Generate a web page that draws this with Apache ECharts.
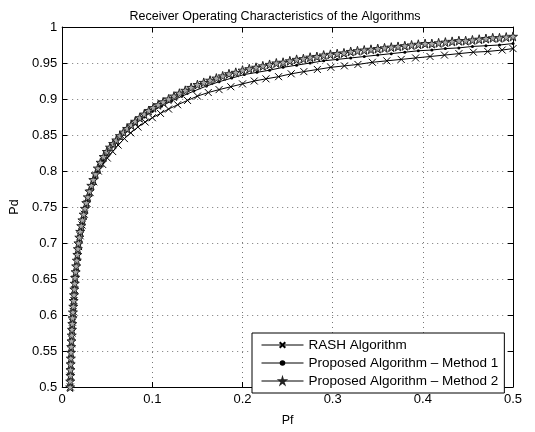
<!DOCTYPE html>
<html>
<head>
<meta charset="utf-8">
<script src="https://cdn.jsdelivr.net/npm/echarts@6/dist/echarts.min.js"></script>
<style>
    html, body { margin: 0; padding: 0; background: #fff; }
    #roc { width: 535px; height: 432px; }
</style>
</head>
<body>
<div id="roc"></div>
<script>
// tick labels of the axes
const xTicks = [0, 0.1, 0.2, 0.3, 0.4, 0.5];
const yTicks = [0.5, 0.55, 0.6, 0.65, 0.7, 0.75, 0.8, 0.85, 0.9, 0.95, 1];

const seriesNames = ['RASH Algorithm', 'Proposed Algorithm \u2013 Method 1', 'Proposed Algorithm \u2013 Method 2'];

// [Pf, Pd]
const rash = [
    [0.0090, 0.500], [0.0093, 0.515], [0.0096, 0.530], [0.0099, 0.545], [0.0103, 0.560],
    [0.0108, 0.575], [0.0114, 0.590], [0.0122, 0.605], [0.0130, 0.620], [0.0138, 0.635],
    [0.0146, 0.650], [0.0157, 0.665], [0.0169, 0.680], [0.0182, 0.695], [0.0199, 0.710],
    [0.0220, 0.725], [0.0245, 0.740], [0.0275, 0.755], [0.0310, 0.770], [0.0350, 0.785],
    [0.0400, 0.800], [0.045, 0.809], [0.050, 0.818], [0.056, 0.827], [0.062, 0.836],
    [0.069, 0.845], [0.076, 0.853], [0.084, 0.861], [0.092, 0.868], [0.100, 0.874],
    [0.109, 0.880], [0.118, 0.886], [0.128, 0.892], [0.139, 0.898], [0.150, 0.904],
    [0.162, 0.909], [0.174, 0.913], [0.187, 0.917], [0.200, 0.921], [0.213, 0.925],
    [0.226, 0.928], [0.240, 0.931], [0.254, 0.935], [0.268, 0.938], [0.283, 0.941],
    [0.298, 0.944], [0.313, 0.946], [0.328, 0.948], [0.344, 0.951], [0.360, 0.953],
    [0.376, 0.955], [0.392, 0.957], [0.408, 0.959], [0.424, 0.961], [0.440, 0.963],
    [0.456, 0.965], [0.472, 0.966], [0.488, 0.968], [0.500, 0.970]
];

const method1 = [
    [0.0089, 0.500], [0.0092, 0.520], [0.0097, 0.540], [0.0102, 0.560], [0.0110, 0.580],
    [0.0118, 0.600], [0.0128, 0.620], [0.0138, 0.640], [0.0150, 0.660], [0.0166, 0.680],
    [0.0182, 0.700], [0.0207, 0.720], [0.0240, 0.740], [0.0278, 0.760], [0.0325, 0.780],
    [0.0385, 0.800], [0.045, 0.814], [0.051, 0.825], [0.058, 0.836], [0.065, 0.846],
    [0.073, 0.856], [0.082, 0.866], [0.091, 0.875], [0.100, 0.883], [0.110, 0.890],
    [0.121, 0.897], [0.133, 0.904], [0.146, 0.911], [0.160, 0.918], [0.174, 0.924],
    [0.188, 0.929], [0.202, 0.934], [0.216, 0.937], [0.230, 0.940], [0.245, 0.944],
    [0.260, 0.947], [0.275, 0.950], [0.290, 0.953], [0.305, 0.955], [0.320, 0.957],
    [0.335, 0.959], [0.350, 0.961], [0.365, 0.963], [0.380, 0.965], [0.395, 0.967],
    [0.410, 0.968], [0.425, 0.970], [0.440, 0.971], [0.455, 0.973], [0.470, 0.974],
    [0.485, 0.975], [0.500, 0.977]
];

const method2 = [
    [0.0088, 0.500], [0.0089, 0.508], [0.0091, 0.516], [0.0092, 0.524], [0.0094, 0.532],
    [0.0096, 0.540], [0.0098, 0.548], [0.0100, 0.556], [0.0103, 0.564], [0.0106, 0.572],
    [0.0109, 0.580], [0.0112, 0.588], [0.0115, 0.596], [0.0119, 0.604], [0.0123, 0.612],
    [0.0127, 0.620], [0.0131, 0.628], [0.0135, 0.636], [0.0139, 0.644], [0.0143, 0.652],
    [0.0149, 0.660], [0.0155, 0.668], [0.0162, 0.676], [0.0168, 0.684], [0.0174, 0.692],
    [0.0180, 0.700], [0.0190, 0.708], [0.0200, 0.716], [0.0211, 0.724], [0.0224, 0.732],
    [0.0238, 0.740], [0.0252, 0.748], [0.0267, 0.756], [0.0284, 0.764], [0.0302, 0.772],
    [0.0323, 0.780], [0.0345, 0.788], [0.0370, 0.796], [0.0395, 0.804], [0.0425, 0.812],
    [0.0460, 0.820], [0.0495, 0.827], [0.0530, 0.833], [0.0565, 0.838], [0.0600, 0.843],
    [0.0640, 0.849], [0.0680, 0.854], [0.0720, 0.859], [0.0765, 0.864], [0.0810, 0.869],
    [0.0860, 0.874], [0.0910, 0.879], [0.0960, 0.884], [0.1010, 0.888], [0.1065, 0.892],
    [0.1120, 0.896], [0.1180, 0.900], [0.1240, 0.904], [0.1300, 0.908], [0.1365, 0.912],
    [0.1430, 0.916], [0.1500, 0.920], [0.1570, 0.923], [0.1640, 0.926], [0.1710, 0.929],
    [0.1780, 0.932], [0.1850, 0.935], [0.1925, 0.937], [0.2000, 0.940], [0.2075, 0.942],
    [0.2150, 0.944], [0.2225, 0.946], [0.2300, 0.948], [0.2375, 0.950], [0.2450, 0.951],
    [0.2525, 0.953], [0.2600, 0.955], [0.2675, 0.956], [0.2750, 0.958], [0.2825, 0.959],
    [0.2900, 0.961], [0.2975, 0.962], [0.3050, 0.963], [0.3125, 0.964], [0.3200, 0.966],
    [0.3275, 0.967], [0.3350, 0.968], [0.3425, 0.969], [0.3500, 0.970], [0.3575, 0.971],
    [0.3650, 0.972], [0.3725, 0.973], [0.3800, 0.974], [0.3875, 0.975], [0.3950, 0.976],
    [0.4025, 0.977], [0.4100, 0.977], [0.4175, 0.978], [0.4250, 0.979], [0.4325, 0.980],
    [0.4400, 0.981], [0.4475, 0.981], [0.4550, 0.982], [0.4625, 0.983], [0.4700, 0.984],
    [0.4775, 0.985], [0.4850, 0.985], [0.4925, 0.986], [0.5000, 0.987]
];

const crossPath = 'path://M0,0L10,10M10,0L0,10';
const starPath = 'path://M50,0L61,35L98,35L68,57L79,91L50,70L21,91L32,57L2,35L39,35Z';

const font = 'Liberation Sans, Helvetica, Arial, sans-serif';

const chart = echarts.init(document.getElementById('roc'), null, {renderer: 'canvas'});

const baseX = {
    type: 'value',
    min: xTicks[0],
    max: xTicks[xTicks.length - 1],
    interval: 0.1,
    axisLine: {show: true, onZero: false, lineStyle: {color: '#000', width: 1}},
    axisTick: {show: true, inside: true, length: 5, lineStyle: {color: '#000'}},
    splitLine: {show: false}
};
const baseY = {
    type: 'value',
    min: yTicks[0],
    max: yTicks[yTicks.length - 1],
    interval: 0.05,
    axisLine: {show: true, onZero: false, lineStyle: {color: '#000', width: 1}},
    axisTick: {show: true, inside: true, length: 5, lineStyle: {color: '#000'}},
    splitLine: {show: false}
};
const gridLine = {show: true, lineStyle: {color: '#777', type: [1, 4], width: 1}};

let option = {
    animation: false,
    backgroundColor: '#fff',
    textStyle: {fontFamily: font, color: '#000'},
    title: {
        text: 'Receiver Operating Characteristics of the Algorithms',
        left: 270,
        textAlign: 'center',
        top: 5,
        textStyle: {fontSize: 12.5, fontWeight: 'normal', color: '#000', fontFamily: font}
    },
    grid: {left: 58, right: 22, top: 27, bottom: 37, containLabel: false},
    legend: {
        orient: 'vertical',
        left: 252,
        top: 333,
        itemWidth: 42,
        itemHeight: 7,
        itemGap: 4,
        padding: [5, 6, 5, 9],
        backgroundColor: '#fff',
        borderColor: '#000',
        borderWidth: 1,
        borderRadius: 0,
        lineStyle: {width: 1, color: '#000'},
        textStyle: {fontSize: 13.5, color: '#000', fontFamily: font},
        data: seriesNames
    },
    xAxis: [
        Object.assign({}, baseX, {
            position: 'bottom',
            name: 'Pf',
            nameLocation: 'middle',
            nameGap: 27,
            nameTextStyle: {fontSize: 12.5, color: '#000', fontFamily: font},
            axisLabel: {show: true, color: '#000', fontSize: 13, margin: 6, fontFamily: font},
            splitLine: gridLine
        }),
        Object.assign({}, baseX, {position: 'top', axisLabel: {show: false}})
    ],
    yAxis: [
        Object.assign({}, baseY, {
            position: 'left',
            name: 'Pd',
            nameLocation: 'middle',
            nameGap: 40,
            nameRotate: 90,
            nameTextStyle: {fontSize: 12.5, color: '#000', fontFamily: font},
            axisLabel: {show: true, color: '#000', fontSize: 13, margin: 5, fontFamily: font},
            splitLine: gridLine
        }),
        Object.assign({}, baseY, {position: 'right', axisLabel: {show: false}})
    ],
    series: [
        {
            name: seriesNames[0],
            type: 'line',
            data: rash,
            symbol: crossPath,
            symbolSize: 7,
            showAllSymbol: true,
            lineStyle: {color: '#000', width: 1},
            itemStyle: {color: 'rgba(0,0,0,0)', borderColor: '#000', borderWidth: 1},
            emphasis: {disabled: true},
            z: 3
        },
        {
            name: seriesNames[1],
            type: 'line',
            data: method1,
            symbol: 'circle',
            symbolSize: 3,
            showAllSymbol: true,
            lineStyle: {color: '#000', width: 1},
            itemStyle: {color: '#000', borderWidth: 0},
            emphasis: {disabled: true},
            z: 4
        },
        {
            name: seriesNames[2],
            type: 'line',
            data: method2,
            symbol: starPath,
            symbolSize: 9,
            showAllSymbol: true,
            lineStyle: {color: '#000', width: 1},
            itemStyle: {color: '#aaa', borderColor: '#222', borderWidth: 1},
            emphasis: {disabled: true},
            z: 5
        }
    ]
};

option && chart.setOption(option);
</script>
</body>
</html>
